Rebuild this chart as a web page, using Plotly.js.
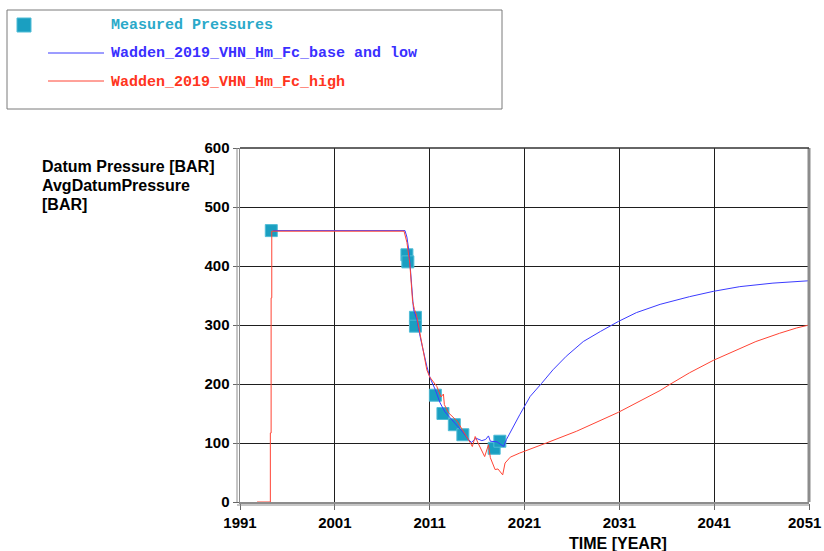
<!DOCTYPE html>
<html>
<head>
<meta charset="utf-8">
<script src="https://cdn.plot.ly/plotly-3.0.1.min.js"></script>
<style>
  html, body { margin: 0; padding: 0; background: #ffffff; }
  #chart { width: 824px; height: 551px; }
</style>
</head>
<body>
<div id="chart"></div>
<script>
// ---- Data ----
const measYears = [1994.3, 2008.6, 2008.7, 2009.5, 2009.5, 2011.6, 2012.4, 2013.6, 2014.5, 2017.8, 2018.4];
const measPressure = [460, 419, 407, 313, 298, 181, 150, 131, 114, 91, 103];

const baseYears = [1994.5, 2008.4, 2008.6, 2008.8, 2008.95, 2009.1, 2009.3, 2009.65, 2010.0, 2010.7,
  2011.05, 2011.6, 2012.1, 2012.6, 2013.5, 2014.4, 2015.1, 2015.4, 2015.9, 2016.5, 2016.9, 2017.2,
  2017.4, 2018.1, 2018.8, 2019.1, 2020.5, 2021.6, 2022.8, 2024.0, 2025.4, 2027.2, 2029.0, 2030.9,
  2032.8, 2035.3, 2038.4, 2040.9, 2043.7, 2047.2, 2051.0];
const basePressure = [460, 460, 449, 427, 399, 359, 326, 309, 280, 230,
  210, 190, 168, 153, 137, 120, 106, 101, 108, 104, 106, 112,
  103, 102, 94, 106, 148, 179, 201, 224, 247, 272, 289, 306,
  321, 335, 348, 357, 365, 371, 375];

const highYears = [1992.8, 1994.2, 1994.2, 1994.28, 1994.28, 1994.35, 1994.35, 2008.3, 2008.6, 2008.9,
  2009.2, 2009.4, 2009.6, 2010.2, 2010.7, 2011.0, 2011.75, 2012.2, 2012.45, 2012.55, 2013.0, 2013.9,
  2014.7, 2015.3, 2015.5, 2015.8, 2016.1, 2016.8, 2017.2, 2017.4, 2017.9, 2018.2, 2018.7, 2018.95,
  2019.5, 2020.5, 2023.3, 2026.5, 2030.9, 2032.8, 2035.3, 2036.3, 2038.4, 2040.9, 2043.0, 2045.4,
  2047.9, 2049.7, 2051.0];
const highPressure = [0, 0, 117, 117, 346, 346, 459, 459, 440, 405,
  340, 326, 318, 263, 224, 212, 196, 178, 183, 165, 151, 137,
  117, 100, 94, 111, 100, 77, 97, 75, 55, 56, 46, 66,
  76, 83, 100, 120, 152, 168, 189, 199, 219, 240, 255, 272,
  286, 295, 300];

const xTickVals = [1991, 2001, 2011, 2021, 2031, 2041, 2051];
const xTickText = ['1991', '2001', '2011', '2021', '2031', '2041', ''];
const lastXLabel = '2051';
const yTickVals = [0, 100, 200, 300, 400, 500, 600];

const legendNames = ['Measured Pressures', 'Wadden_2019_VHN_Hm_Fc_base and low', 'Wadden_2019_VHN_Hm_Fc_high'];
const yTitleLines = ['Datum Pressure [BAR]', 'AvgDatumPressure', '[BAR]'];
const xTitle = 'TIME [YEAR]';

// ---- Styling ----
const TEAL = '#1a9fc1';
const TEAL_TEXT = '#2aa9c9';
const BLUE = '#3b3bff';
const RED = '#ff4434';
const BLUE_TEXT = '#3a30ff';
const RED_TEXT = '#ff3420';

const W = 824, H = 551;
const M = {l: 240, r: 15, t: 148, b: 49};
const PW = W - M.l - M.r, PH = H - M.t - M.b;
const px = x => (x - M.l) / PW;
const py = y => (H - M.b - y) / PH;

const sans = 'Arial, "Liberation Sans", sans-serif';
const mono = '"Courier New", "Liberation Mono", monospace';

const traces = [
  {
    x: measYears, y: measPressure, type: 'scatter', mode: 'markers', name: legendNames[0],
    marker: {symbol: 'square', size: 12, color: TEAL, line: {width: 1, color: '#4fbcd6'}},
    showlegend: false, hoverinfo: 'x+y'
  },
  {
    x: baseYears, y: basePressure, type: 'scatter', mode: 'lines', name: legendNames[1],
    line: {color: BLUE, width: 1}, showlegend: false
  },
  {
    x: highYears, y: highPressure, type: 'scatter', mode: 'lines', name: legendNames[2],
    line: {color: RED, width: 1}, showlegend: false
  }
];

const annotations = [];
const yTitleCenters = [166, 185, 204];
yTitleLines.forEach((t, i) => annotations.push({
  text: t, xref: 'paper', yref: 'paper', x: px(40), y: py(yTitleCenters[i]),
  xanchor: 'left', yanchor: 'middle', showarrow: false, align: 'left',
  font: {family: sans, size: 16, weight: 'bold', color: '#000'}
}));
annotations.push({
  text: xTitle, xref: 'paper', yref: 'paper', x: px(618), y: py(543),
  xanchor: 'center', yanchor: 'middle', showarrow: false,
  font: {family: sans, size: 16, weight: 'bold', color: '#000'}
});
// last x tick label, kept inside the page
annotations.push({
  text: lastXLabel, xref: 'paper', yref: 'paper', x: px(823), y: py(522),
  xanchor: 'right', yanchor: 'middle', showarrow: false,
  font: {family: sans, size: 15, weight: 'bold', color: '#000'}
});
const legendRows = [25, 53, 81];
const legendColors = [TEAL_TEXT, BLUE_TEXT, RED_TEXT];
legendNames.forEach((t, i) => annotations.push({
  text: t, xref: 'paper', yref: 'paper', x: px(109), y: py(legendRows[i] + 1),
  xanchor: 'left', yanchor: 'middle', showarrow: false,
  font: {family: mono, size: 15, weight: 'bold', color: legendColors[i]}
}));

const shapes = [
  {type: 'rect', xref: 'paper', yref: 'paper', x0: px(7), x1: px(502), y0: py(10), y1: py(109),
   line: {color: '#7a7a7a', width: 1}, fillcolor: 'rgba(0,0,0,0)', layer: 'above'},
  {type: 'rect', xref: 'paper', yref: 'paper', x0: px(17), x1: px(31), y0: py(18), y1: py(32),
   line: {color: '#4fbcd6', width: 1}, fillcolor: TEAL},
  {type: 'line', xref: 'paper', yref: 'paper', x0: px(48), x1: px(104), y0: py(legendRows[1]), y1: py(legendRows[1]),
   line: {color: BLUE, width: 1}},
  {type: 'line', xref: 'paper', yref: 'paper', x0: px(48), x1: px(104), y0: py(legendRows[2]), y1: py(legendRows[2]),
   line: {color: RED, width: 1}},
  {type: 'line', xref: 'paper', yref: 'paper', x0: 1, x1: 1, y0: 0, y1: 1,
   line: {color: '#8c8c8c', width: 3}},
  {type: 'line', xref: 'paper', yref: 'paper', x0: 0, x1: 1, y0: 1, y1: 1,
   line: {color: '#333', width: 1.5}},
  {type: 'line', xref: 'paper', yref: 'paper', x0: px(237), x1: px(237), y0: 0, y1: 1,
   line: {color: '#8c8c8c', width: 1}},
  {type: 'line', xref: 'paper', yref: 'paper', x0: px(237), x1: 1, y0: py(505), y1: py(505),
   line: {color: '#8c8c8c', width: 1}}
];

const axisCommon = {
  showgrid: true, gridcolor: '#1e1e1e', gridwidth: 1,
  zeroline: false, showline: true, linecolor: '#8c8c8c', linewidth: 1.5,
  ticks: 'outside', ticklen: 6, tickcolor: '#666', tickwidth: 1,
  tickfont: {family: sans, size: 15, weight: 'bold', color: '#000'}
};

const layout = {
  width: W, height: H,
  margin: M,
  paper_bgcolor: '#fff', plot_bgcolor: '#fff',
  showlegend: false,
  xaxis: Object.assign({range: [1991, 2051], tickvals: xTickVals, ticktext: xTickText}, axisCommon),
  yaxis: Object.assign({range: [0, 600], tickvals: yTickVals, ticktext: yTickVals.map(String)}, axisCommon),
  annotations: annotations,
  shapes: shapes
};

Plotly.newPlot('chart', traces, layout, {displayModeBar: false, staticPlot: true});
</script>
</body>
</html>
